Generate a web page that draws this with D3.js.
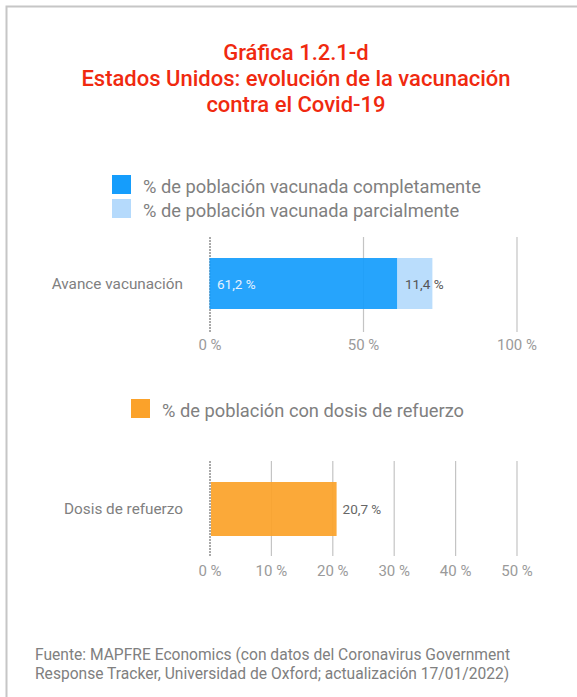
<!DOCTYPE html>
<html>
<head>
<meta charset="utf-8">
<script src="https://cdn.jsdelivr.net/npm/d3@7"></script>
<style>
  body { margin: 0; background: #fff; }
  text { font-family: Roboto, "Noto Sans", sans-serif; }
</style>
</head>
<body>
<div id="chart"></div>
<script>
// datos
var titleLines = ["Gráfica 1.2.1-d", "Estados Unidos: evolución de la vacunación", "contra el Covid-19"];

var vacCategory = "Avance vacunación";
var vacSeries = ["% de población vacunada completamente", "% de población vacunada parcialmente"];
var vacValues = [61.2, 11.4];
var vacLabels = ["61,2 %", "11,4 %"];
var vacTicks = [0, 50, 100];

var boostCategory = "Dosis de refuerzo";
var boostSeries = ["% de población con dosis de refuerzo"];
var boostValues = [20.7];
var boostLabels = ["20,7 %"];
var boostTicks = [0, 10, 20, 30, 40, 50];

var sourceLines = [
  "Fuente: MAPFRE Economics (con datos del Coronavirus Government",
  "Response Tracker, Universidad de Oxford; actualización 17/01/2022)"
];

var svgWidth = 577;
var svgHeight = 697;

var svg = d3.select("#chart")
  .append("svg")
  .attr("width", svgWidth)
  .attr("height", svgHeight);

// marco
svg.append("path")
  .attr("d", "M6.5,697 V6.5 H577")
  .attr("fill", "none")
  .attr("stroke", "#c6c6c6")
  .attr("stroke-width", 2);

// titulo
svg.selectAll(".title")
  .data(titleLines)
  .enter()
  .append("text")
  .attr("class", "title")
  .attr("x", 296)
  .attr("y", (d, i) => 59.5 + i * 26)
  .attr("text-anchor", "middle")
  .attr("font-size", "22px")
  .attr("font-weight", 500)
  .attr("fill", "#f0290f")
  .text(d => d);

function legend(g, names, colors, x, y0, step) {
  names.forEach(function(name, i) {
    g.append("rect")
      .attr("x", x)
      .attr("y", y0 + i * step)
      .attr("width", 19)
      .attr("height", 19)
      .attr("fill", colors[i]);
    g.append("text")
      .attr("x", x + 31)
      .attr("y", y0 + i * step + 18)
      .attr("font-size", "18.3px")
      .attr("fill", "#808080")
      .text(name);
  });
}

function barChart(cfg) {
  var x = d3.scaleLinear()
    .domain([0, d3.max(cfg.ticks)])
    .range([209.5, 516.5]);

  var g = svg.append("g");

  // lineas de cuadricula
  var axis = d3.axisBottom(x)
    .tickValues(cfg.ticks)
    .tickSize(cfg.gridBottom - cfg.gridTop)
    .tickFormat(d => d + " %");

  var ax = g.append("g")
    .attr("transform", `translate(0, ${cfg.gridTop})`)
    .call(axis);
  ax.select(".domain").remove();
  ax.selectAll(".tick line")
    .attr("stroke", "#c4c4c4")
    .attr("stroke-width", 1.2)
    .filter(d => d === 0)
    .attr("stroke", "#555")
    .attr("stroke-width", 1)
    .attr("stroke-dasharray", "2,1");
  ax.selectAll(".tick text")
    .attr("y", cfg.tickBase - cfg.gridTop)
    .attr("dy", 0)
    .attr("font-size", "15px")
    .attr("font-family", "Roboto, sans-serif")
    .attr("fill", "#9a9a9a");

  // barras apiladas
  var start = 0;
  var stack = cfg.values.map(function(v) {
    var s = { x0: start, x1: start + v };
    start += v;
    return s;
  });

  g.selectAll(".bar")
    .data(stack)
    .enter()
    .append("rect")
    .attr("x", d => x(d.x0) + (d.x0 === 0 ? cfg.barInset : 0))
    .attr("y", cfg.barTop)
    .attr("width", d => x(d.x1) - x(d.x0) - (d.x0 === 0 ? cfg.barInset : 0))
    .attr("height", cfg.barHeight)
    .attr("fill", (d, i) => cfg.colors[i])
    .attr("opacity", 0.93);

  g.selectAll(".val")
    .data(stack)
    .enter()
    .append("text")
    .attr("x", (d, i) => cfg.labelInside[i] ? x(d.x0) + 7.5 : x(d.x1) + 6)
    .attr("y", cfg.labelBase)
    .attr("font-size", "13.5px")
    .attr("fill", (d, i) => cfg.labelColors[i])
    .text((d, i) => cfg.labels[i]);

  g.append("text")
    .attr("x", 183)
    .attr("y", cfg.labelBase)
    .attr("text-anchor", "end")
    .attr("font-size", "15.3px")
    .attr("fill", "#808080")
    .text(cfg.category);
}

legend(svg, vacSeries, ["#159dfc", "#b5dafc"], 112, 175, 24);

barChart({
  ticks: vacTicks,
  values: vacValues,
  labels: vacLabels,
  category: vacCategory,
  colors: ["#159dfc", "#b5dafc"],
  labelColors: ["#e6f2ff", "#555"],
  labelInside: [true, true],
  gridTop: 237,
  gridBottom: 332,
  tickBase: 350,
  barTop: 258,
  barHeight: 51,
  labelBase: 289,
  barInset: 0
});

legend(svg, boostSeries, ["#fba22a"], 131, 399, 24);

barChart({
  ticks: boostTicks,
  values: boostValues,
  labels: boostLabels,
  category: boostCategory,
  colors: ["#fba22a"],
  labelColors: ["#666"],
  labelInside: [false],
  gridTop: 461,
  gridBottom: 556,
  tickBase: 575.5,
  barTop: 482,
  barHeight: 54,
  labelBase: 513.5,
  barInset: 1.5
});

// fuente
svg.selectAll(".src")
  .data(sourceLines)
  .enter()
  .append("text")
  .attr("class", "src")
  .attr("x", 35)
  .attr("y", (d, i) => 660 + i * 18.5)
  .attr("font-size", "15.6px")
  .attr("fill", "#808080")
  .text(d => d);
</script>
</body>
</html>
